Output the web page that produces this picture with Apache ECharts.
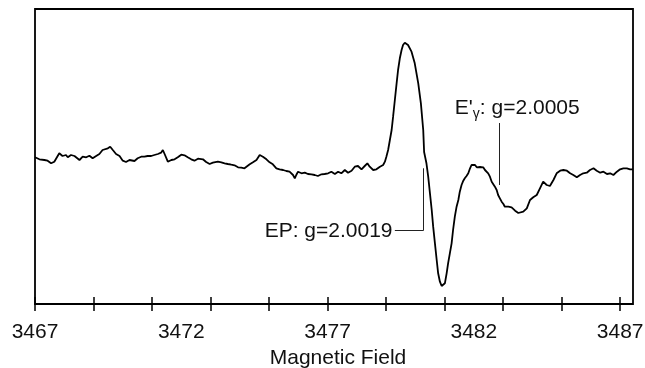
<!DOCTYPE html>
<html><head><meta charset="utf-8">
<script src="https://cdn.jsdelivr.net/npm/echarts@6/dist/echarts.min.js"></script>
<style>html,body{margin:0;padding:0;background:#fff}#c{width:645px;height:368px}</style>
</head><body><div id="c"></div>
<script>
const field = [3467.00,3467.15,3467.32,3467.43,3467.55,3467.66,3467.83,3467.94,3468.06,3468.12,3468.23,3468.35,3468.40,3468.52,3468.63,3468.75,3468.86,3468.97,3469.09,3469.20,3469.31,3469.49,3469.57,3469.66,3469.77,3469.89,3470.00,3470.11,3470.23,3470.40,3470.51,3470.63,3470.74,3470.85,3470.97,3471.08,3471.20,3471.31,3471.37,3471.43,3471.54,3471.66,3471.77,3471.88,3472.00,3472.11,3472.22,3472.34,3472.45,3472.57,3472.62,3472.74,3472.85,3472.97,3473.08,3473.14,3473.25,3473.37,3473.48,3473.59,3473.71,3473.82,3473.94,3474.05,3474.16,3474.22,3474.34,3474.45,3474.57,3474.68,3474.79,3474.91,3475.02,3475.13,3475.25,3475.36,3475.48,3475.59,3475.70,3475.82,3475.88,3475.93,3475.99,3476.11,3476.22,3476.33,3476.45,3476.56,3476.67,3476.79,3476.90,3477.02,3477.13,3477.25,3477.36,3477.47,3477.59,3477.70,3477.82,3477.93,3478.04,3478.16,3478.27,3478.36,3478.44,3478.56,3478.67,3478.79,3478.90,3478.96,3479.01,3479.07,3479.13,3479.19,3479.24,3479.30,3479.36,3479.41,3479.47,3479.53,3479.58,3479.64,3479.70,3479.75,3479.87,3479.98,3480.10,3480.19,3480.27,3480.30,3480.38,3480.44,3480.50,3480.56,3480.61,3480.67,3480.73,3480.78,3480.84,3480.90,3480.95,3481.01,3481.07,3481.12,3481.18,3481.24,3481.29,3481.35,3481.41,3481.47,3481.52,3481.58,3481.64,3481.69,3481.75,3481.81,3481.87,3481.92,3481.98,3482.04,3482.10,3482.15,3482.21,3482.27,3482.32,3482.38,3482.44,3482.49,3482.55,3482.61,3482.66,3482.72,3482.78,3482.83,3482.89,3482.95,3483.01,3483.06,3483.12,3483.18,3483.24,3483.29,3483.35,3483.41,3483.46,3483.52,3483.58,3483.69,3483.81,3483.92,3484.03,3484.15,3484.26,3484.37,3484.49,3484.60,3484.72,3484.83,3484.95,3485.06,3485.18,3485.29,3485.40,3485.52,3485.63,3485.74,3485.86,3485.97,3486.09,3486.20,3486.32,3486.43,3486.55,3486.66,3486.77,3486.89,3487.00,3487.11,3487.23,3487.34,3487.44];
const signal = [0.7,-1.3,-2,-2.7,-5.3,-3.7,4.7,2,3,0.7,3,2,3.7,-2,1.3,0.7,2.3,-0.3,2,4,8,9.7,11.3,8,4,2,-2.7,-4,-2,-3,-0.3,1.3,1.3,2,2,3,4,5.3,8,4,-3.7,-2,-1.3,0.7,3.3,2.7,0.7,-1.3,-2.7,-0.7,-2,-1.3,-4,-6,-4.7,-3,-3.7,-4.3,-5.3,-6,-6.7,-7.3,-9.3,-9.7,-10.3,-8.7,-6.3,-4.3,-2,3,1.3,-1.3,-4.3,-6.3,-10.3,-11.3,-12,-13,-13.7,-17,-20.3,-17,-13.7,-15.3,-14.7,-16,-16.3,-17,-18,-16.3,-16,-15.3,-13.7,-16,-13.7,-15.3,-12,-14.7,-12.7,-8.7,-8,-11.3,-8,-5.3,-8.7,-12,-11.3,-8.7,-7,-3.7,1.3,8,18,28,41.3,58,74.7,88,99.7,108,113,115.3,115.3,113,106.3,94.7,74.7,54.7,28,6,-5.3,-18.7,-35.3,-52,-68.7,-85.3,-102,-115.3,-123.7,-128,-128.7,-125.3,-115.3,-105.3,-95.3,-85.3,-72,-58.7,-48.7,-42,-33.7,-27,-22.7,-20.3,-18,-15.3,-10.3,-7,-5.3,-7,-9.3,-8.7,-9,-8,-9.3,-12,-13,-15.3,-18.7,-23.7,-25.3,-28.7,-32,-37,-40.3,-43.7,-46,-48.7,-49,-48.7,-49,-49.3,-50.7,-52.7,-53.5,-55,-56,-53.7,-50.3,-42,-39.3,-37,-30.3,-23.7,-27,-28,-22,-15.3,-12.7,-12,-12.7,-15.3,-17,-19.3,-17,-15.3,-14.7,-12,-10.3,-12.7,-14.7,-13.7,-16,-15.3,-17,-13.7,-11.3,-10.3,-10.3,-11.3,-11.3];
const tickValues = [3467,3469,3471,3473,3475,3477,3479,3481,3483,3485,3487];
const labelValues = [3467,3472,3477,3482,3487];
const xTitle = 'Magnetic Field';
const gammaLeader = [[3482.87, 35], [3482.87, -27]];
const epLeader = [[3479.30, -72.7], [3480.27, -72.7], [3480.27, -10.3]];
const gammaLabelAt = [3481.35, 49.5];
const epLabelAt = [3479.22, -72.8];
const epText = 'EP: g=2.0019';
const gammaValue = ': g=2.0005';

const FONT = "'Liberation Sans', Arial, sans-serif";
const chart = echarts.init(document.getElementById('c'), null, {renderer: 'canvas'});
const xMin = 3467, xMax = 3487.44;
const leaderSegs = [];
for (const seq of [gammaLeader, epLeader]) {
  for (let i = 0; i < seq.length - 1; i++) leaderSegs.push([{coord: seq[i]}, {coord: seq[i + 1]}]);
}
chart.setOption({
  animation: false,
  backgroundColor: '#fff',
  grid: {left: 35, right: 12, top: 9, bottom: 64, show: true, borderColor: '#000', borderWidth: 1.8, backgroundColor: 'transparent', containLabel: false, outerBoundsMode: 'none'},
  xAxis: {
    type: 'value', position: 'bottom', offset: -7, min: xMin, max: xMax,
    axisLine: {show: false, onZero: false},
    axisTick: {show: true, inside: false, length: 14, customValues: tickValues, lineStyle: {color: '#000', width: 1.5}},
    axisLabel: {show: true, customValues: labelValues, margin: 25, fontSize: 21, color: '#111', fontFamily: FONT,
      formatter: v => String(Math.round(v))},
    splitLine: {show: false},
    name: xTitle, nameLocation: 'middle', nameGap: 51,
    nameTextStyle: {fontSize: 21, color: '#111', fontFamily: FONT, padding: [0, 0, 0, 8]}
  },
  yAxis: {
    type: 'value', min: -146, max: 149,
    axisLine: {show: false, onZero: false}, axisTick: {show: false}, axisLabel: {show: false}, splitLine: {show: false}
  },
  series: [{
    type: 'line',
    data: field.map((f, i) => [f, signal[i]]),
    showSymbol: false, symbol: 'none',
    lineStyle: {color: '#000', width: 1.8},
    markLine: {
      silent: true, symbol: ['none', 'none'],
      lineStyle: {color: '#222', width: 1, type: 'solid'},
      label: {show: false},
      data: leaderSegs
    },
    markPoint: {
      silent: true, symbol: 'circle', symbolSize: 0,
      data: [
        {coord: gammaLabelAt, label: {show: true, position: 'right', distance: 0,
          formatter: '{a|E\'}{s|γ}{a|' + gammaValue + '}',
          rich: {
            a: {fontSize: 21, color: '#111', fontFamily: FONT, lineHeight: 28},
            s: {fontSize: 14, color: '#111', fontFamily: FONT, lineHeight: 28, padding: [12, 0, 0, 0]}
          }}},
        {coord: epLabelAt, label: {show: true, position: 'left', distance: 0,
          formatter: epText, fontSize: 21, color: '#111', fontFamily: FONT}}
      ]
    }
  }]
});
</script>
</body></html>
